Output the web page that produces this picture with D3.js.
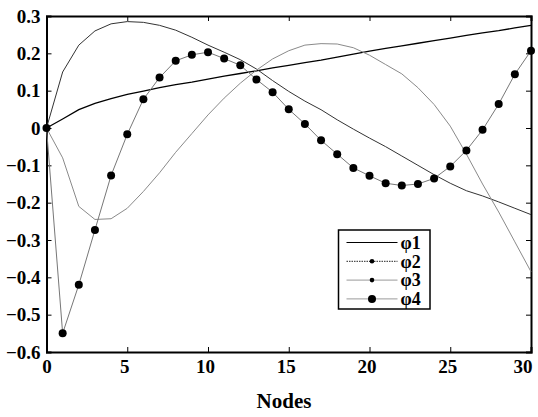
<!DOCTYPE html>
<html lang="en">
<head>
<meta charset="UTF-8">
<title>Nodes</title>
<script src="https://cdn.jsdelivr.net/npm/d3@7"></script>
<style>
  body { margin: 0; background: #fff; }
  svg text { font-family: 'Liberation Serif', 'Times New Roman', Times, serif !important; font-weight: bold; }
</style>
</head>
<body>
<script>
  const svgWidth = 538
  const svgHeight = 417
  const margin = { top: 16, right: 7, bottom: 65, left: 46.5 }
  const w = svgWidth - margin.left - margin.right
  const h = svgHeight - margin.top - margin.bottom

  // node index 0..30
  const nodes = d3.range(0, 31)
  const phi1 = [0, 0.024, 0.049, 0.066, 0.079, 0.09, 0.099, 0.108, 0.116, 0.123, 0.131, 0.139, 0.146, 0.153, 0.161,
    0.168, 0.175, 0.182, 0.19, 0.198, 0.206, 0.213, 0.22, 0.227, 0.234, 0.241, 0.248, 0.255, 0.261, 0.268, 0.275]
  const phi2 = [0, 0.15, 0.222, 0.26, 0.279, 0.285, 0.283, 0.275, 0.262, 0.243, 0.222, 0.203, 0.183, 0.158, 0.127,
    0.098, 0.072, 0.049, 0.022, -0.003, -0.027, -0.05, -0.075, -0.1, -0.125, -0.148, -0.168, -0.182, -0.198, -0.215, -0.232]
  const phi3 = [0, -0.08, -0.21, -0.245, -0.243, -0.215, -0.17, -0.12, -0.065, -0.015, 0.035, 0.08, 0.12, 0.155, 0.185,
    0.207, 0.222, 0.226, 0.225, 0.215, 0.195, 0.17, 0.145, 0.108, 0.063, 0.005, -0.07, -0.15, -0.225, -0.305, -0.385]
  const phi4 = [0, -0.55, -0.42, -0.273, -0.127, -0.017, 0.077, 0.135, 0.18, 0.196, 0.203, 0.186, 0.168, 0.13, 0.096,
    0.05, 0.011, -0.033, -0.07, -0.107, -0.128, -0.148, -0.154, -0.15, -0.135, -0.103, -0.06, -0.005, 0.064, 0.144, 0.207]
  const seriesNames = ['φ1', 'φ2', 'φ3', 'φ4']
  const xTicks = [0, 5, 10, 15, 20, 25, 30]
  const yTicks = [-0.6, -0.5, -0.4, -0.3, -0.2, -0.1, 0, 0.1, 0.2, 0.3]

  const svg = d3.select('body').append('svg')
    .attr('width', svgWidth)
    .attr('height', svgHeight)

  const g = svg.append('g').attr('transform', `translate(${margin.left},${margin.top})`)

  const x = d3.scaleLinear().domain([0, 30]).range([0, w])
  const y = d3.scaleLinear().domain([-0.6, 0.3]).range([h, 0])

  // axes, ticks pointing inward
  const yFmt = d => d === 0 ? '0' : d3.format('.1f')(d)
  const xAxis = g.append('g').attr('class', 'axis')
    .attr('transform', `translate(0,${h})`)
    .call(d3.axisBottom(x).tickValues(xTicks).tickSize(-5).tickPadding(8).tickFormat(d3.format('d')))
  g.append('g').attr('class', 'axis')
    .call(d3.axisTop(x).tickValues(xTicks).tickSize(-5).tickFormat(''))
  g.append('g').attr('class', 'axis')
    .call(d3.axisLeft(y).tickValues(yTicks).tickSize(-5).tickPadding(6).tickFormat(yFmt))
  g.append('g').attr('class', 'axis')
    .attr('transform', `translate(${w},0)`)
    .call(d3.axisRight(y).tickValues(yTicks).tickSize(-5).tickFormat(''))

  g.selectAll('.axis').attr('font-size', 19)
  g.selectAll('.axis .domain').attr('stroke', '#000').attr('stroke-width', 2)
  g.selectAll('.axis .tick line').attr('stroke', '#000').attr('stroke-width', 1)
  g.selectAll('.axis text').attr('fill', '#000')
  // x labels sit a little left of their ticks, the last one inside the frame
  xAxis.selectAll('.tick text')
    .attr('x', d => d === 0 ? 0 : d === 30 ? 1 : -3)
    .attr('text-anchor', d => d === 30 ? 'end' : 'middle')

  const line = d3.line()
    .x((d, i) => x(nodes[i]))
    .y(d => y(d))

  const styles = [
    { color: '#000', width: 1.3 },
    { color: '#333', width: 1 },
    { color: '#8a8a8a', width: 1 },
    { color: '#777', width: 1 }
  ]
  const allSeries = [phi1, phi2, phi3, phi4]

  g.selectAll('path.series')
    .data(allSeries)
    .enter()
    .append('path')
    .attr('class', 'series')
    .attr('d', d => line(d))
    .attr('fill', 'none')
    .attr('stroke', (d, i) => styles[i].color)
    .attr('stroke-width', (d, i) => styles[i].width)

  // markers on phi4
  g.selectAll('circle.m4')
    .data(phi4)
    .enter()
    .append('circle')
    .attr('class', 'm4')
    .attr('cx', (d, i) => x(nodes[i]))
    .attr('cy', d => y(d))
    .attr('r', 4)
    .attr('fill', '#000')

  // legend
  const lg = svg.append('g').attr('transform', 'translate(338.5,230)')
  lg.append('rect')
    .attr('width', 91.5)
    .attr('height', 79)
    .attr('fill', '#fff')
    .attr('stroke', '#000')
    .attr('stroke-width', 1.5)

  const rows = lg.selectAll('g.row')
    .data(seriesNames)
    .enter()
    .append('g')
    .attr('class', 'row')
    .attr('transform', (d, i) => `translate(0,${12.5 + i * 18.8})`)

  rows.append('line')
    .attr('x1', 8).attr('x2', 59)
    .attr('stroke', (d, i) => i === 0 ? '#000' : i === 1 ? '#222' : '#999')
    .attr('stroke-width', 1)
    .attr('stroke-dasharray', (d, i) => i === 1 ? '1.5,1' : null)
  rows.filter((d, i) => i > 0)
    .append('circle')
    .attr('cx', 33.5)
    .attr('r', (d, i) => i === 2 ? 4 : 2.3)
    .attr('fill', '#000')
  rows.append('text')
    .attr('x', 62)
    .attr('dy', '0.35em')
    .attr('font-size', 18)
    .text(d => d)

  svg.append('text')
    .attr('x', 284)
    .attr('y', 408)
    .attr('text-anchor', 'middle')
    .attr('font-size', 21)
    .text('Nodes')
</script>
</body>
</html>
